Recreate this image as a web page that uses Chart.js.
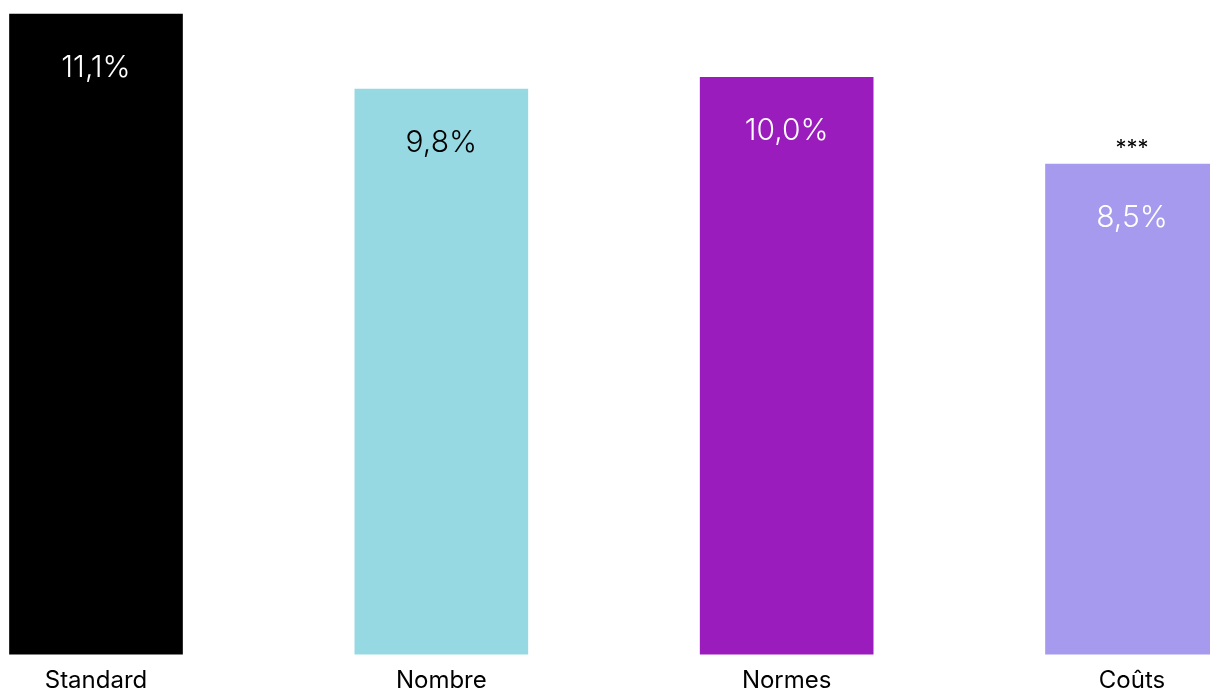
<!DOCTYPE html>
<html lang="fr">
<head>
<meta charset="utf-8">
<script src="https://cdn.jsdelivr.net/npm/chart.js@4/dist/chart.umd.min.js"></script>
<style>
  html, body { margin: 0; padding: 0; background: #ffffff; overflow: hidden; }
  #wrap { position: relative; width: 1210px; height: 707px; }
</style>
</head>
<body>
<div id="wrap"><canvas id="chart"></canvas></div>
<script>
// Catégories et valeurs (en %)
const categories = ['Standard', 'Nombre', 'Normes', 'Coûts'];
const values = [11.1, 9.8, 10.0, 8.5];
const barColors = ['#000000', '#97D9E3', '#9B1CBD', '#A59AEE'];
const labelColors = ['#ffffff', '#000000', '#ffffff', '#ffffff'];
const significance = ['', '', '', '***'];

const FONT = 'Inter, "Noto Sans", sans-serif';

const fmt = v => v.toFixed(1).replace('.', ',') + '%';

// Étiquettes de valeur dans les barres et marques de significativité
const barLabels = {
  id: 'barLabels',
  afterDatasetsDraw(chart) {
    const { ctx } = chart;
    const meta = chart.getDatasetMeta(0);
    ctx.save();
    ctx.textAlign = 'center';
    ctx.textBaseline = 'middle';
    meta.data.forEach((bar, i) => {
      ctx.font = '300 30px ' + FONT;
      ctx.fillStyle = labelColors[i];
      ctx.fillText(fmt(values[i]), bar.x, bar.y + 54);
      if (significance[i]) {
        ctx.font = '22px ' + FONT;
        ctx.fillStyle = '#000000';
        ctx.fillText(significance[i], bar.x, bar.y - 16);
      }
    });
    ctx.restore();
  }
};

new Chart(document.getElementById('chart'), {
  type: 'bar',
  data: {
    labels: categories,
    datasets: [{
      data: values,
      backgroundColor: barColors,
      borderWidth: 0,
      barThickness: 173,
      clip: false
    }]
  },
  options: {
    responsive: true,
    maintainAspectRatio: false,
    animation: false,
    events: [],
    layout: { padding: { top: 14, left: 96, right: 78, bottom: 0 } },
    plugins: {
      legend: { display: false },
      tooltip: { enabled: false }
    },
    scales: {
      x: {
        offset: false,
        grid: { display: false, drawTicks: false },
        border: { display: false },
        ticks: {
          color: '#000000',
          padding: 12,
          font: { family: FONT, size: 24 },
          maxRotation: 0,
          autoSkip: false
        }
      },
      y: {
        display: false,
        min: 0,
        max: 11.1
      }
    }
  },
  plugins: [barLabels]
});
</script>
</body>
</html>
